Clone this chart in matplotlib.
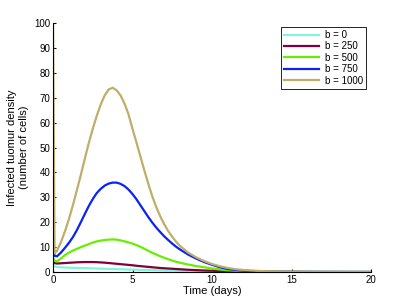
import matplotlib
matplotlib.use("Agg")
import matplotlib.pyplot as plt

plt.rcParams['font.family'] = ['Liberation Sans', 'DejaVu Sans']

# tempo (dias)
tempo = [0, 0.1, 0.25, 0.5, 0.75, 1,
         1.25, 1.5, 1.75, 2, 2.25, 2.5, 2.75, 3,
         3.25, 3.5, 3.75, 4, 4.25, 4.5, 4.75, 5,
         5.25, 5.5, 5.75, 6, 6.25, 6.5, 6.75, 7,
         7.25, 7.5, 7.75, 8, 8.5, 9, 9.5, 10,
         10.5, 11, 11.5, 12, 13, 14, 15, 16, 18, 20]

rotulos = ["b = 0", "b = 250", "b = 500", "b = 750", "b = 1000"]
cores = ["#7ff5dc", "#80003c", "#66f000", "#0a22f5", "#bfae6a"]

b0 = [3.0, 2.2, 2.0, 1.9, 1.8, 1.75,
      1.7, 1.65, 1.6, 1.55, 1.5, 1.45, 1.4, 1.35,
      1.3, 1.25, 1.2, 1.15, 1.1, 1.05, 1.0, 0.95,
      0.9, 0.86, 0.82, 0.78, 0.74, 0.7, 0.66, 0.62,
      0.58, 0.55, 0.52, 0.49, 0.43, 0.37, 0.32, 0.28,
      0.24, 0.2, 0.17, 0.15, 0.1, 0.07, 0.05, 0.03, 0.01, 0.0]
b250 = [5.0, 3.6, 3.4, 3.5, 3.6, 3.7,
        3.8, 3.9, 3.95, 4.0, 4.0, 4.0, 3.95, 3.85,
        3.75, 3.6, 3.45, 3.3, 3.15, 3.0, 2.85, 2.7,
        2.5, 2.35, 2.2, 2.05, 1.9, 1.75, 1.6, 1.5,
        1.4, 1.3, 1.2, 1.1, 0.9, 0.75, 0.6, 0.5,
        0.4, 0.32, 0.26, 0.2, 0.13, 0.08, 0.05, 0.03, 0.01, 0.0]
b500 = [6.0, 4.4, 4.3, 5.4, 6.8, 7.8,
        8.6, 9.3, 10.0, 10.6, 11.2, 11.8, 12.3, 12.6,
        12.85, 13.0, 13.1, 13.0, 12.7, 12.3, 11.9, 11.4,
        10.8, 10.1, 9.3, 8.5, 7.7, 7.0, 6.3, 5.7,
        5.1, 4.6, 4.1, 3.7, 3.0, 2.4, 1.9, 1.4,
        1.0, 0.7, 0.5, 0.35, 0.15, 0.07, 0.03, 0.01, 0.0, 0.0]
b750 = [9.0, 6.5, 6.3, 7.8, 9.7, 11.7,
        14.0, 16.8, 20.0, 23.3, 26.5, 29.3, 31.7, 33.4,
        34.7, 35.5, 35.9, 35.9, 35.4, 34.5, 33.1, 31.3,
        29.2, 26.8, 24.4, 22.0, 19.8, 17.8, 16.0, 14.3,
        12.8, 11.4, 10.1, 9.0, 7.0, 5.4, 4.0, 2.9,
        1.9, 1.2, 0.8, 0.5, 0.2, 0.1, 0.05, 0.02, 0.01, 0.0]
b1000 = [100.0, 7.5, 8.5, 12.0, 16.3, 21.2,
         26.8, 32.8, 39.0, 45.5, 51.8, 57.5, 62.7, 67.3,
         70.9, 73.3, 74.0, 73.0, 70.9, 67.6, 63.3, 57.5,
         52.0, 46.3, 40.7, 35.3, 30.3, 26.0, 22.3, 19.1,
         16.4, 14.1, 12.1, 10.4, 7.8, 5.9, 4.4, 3.2,
         2.3, 1.6, 1.1, 0.8, 0.4, 0.2, 0.1, 0.05, 0.01, 0.0]

series = [b0, b250, b500, b750, b1000]

fig = plt.figure(figsize=(4.09, 3.07), dpi=100)
ax = fig.add_axes([0.1296, 0.114, 0.7775, 0.811])

for valores, cor, rotulo in zip(series, cores, rotulos):
    ax.plot(tempo, valores, color=cor, linewidth=1.6, label=rotulo)

ax.set_xlim(0, 20)
ax.set_ylim(0, 100)
ax.set_xticks([0, 5, 10, 15, 20])
ax.set_yticks(range(0, 101, 10))
ax.tick_params(direction="in", length=2.5, width=0.8, labelsize=7, pad=2)
ax.spines["top"].set_visible(False)
ax.spines["right"].set_visible(False)

ax.set_xlabel("Time (days)", fontsize=8, labelpad=1)
ax.set_ylabel("Infected tuomur density\n(number of cells)", fontsize=8,
              labelpad=4)

leg = ax.legend(loc="upper right", bbox_to_anchor=(0.984, 0.984), fontsize=7,
                fancybox=False, framealpha=1, edgecolor="black",
                handlelength=3.6, handletextpad=0.6, borderpad=0.3,
                labelspacing=0.15, borderaxespad=0)
leg.get_frame().set_linewidth(0.6)

fig.savefig("out.png", dpi=100)
